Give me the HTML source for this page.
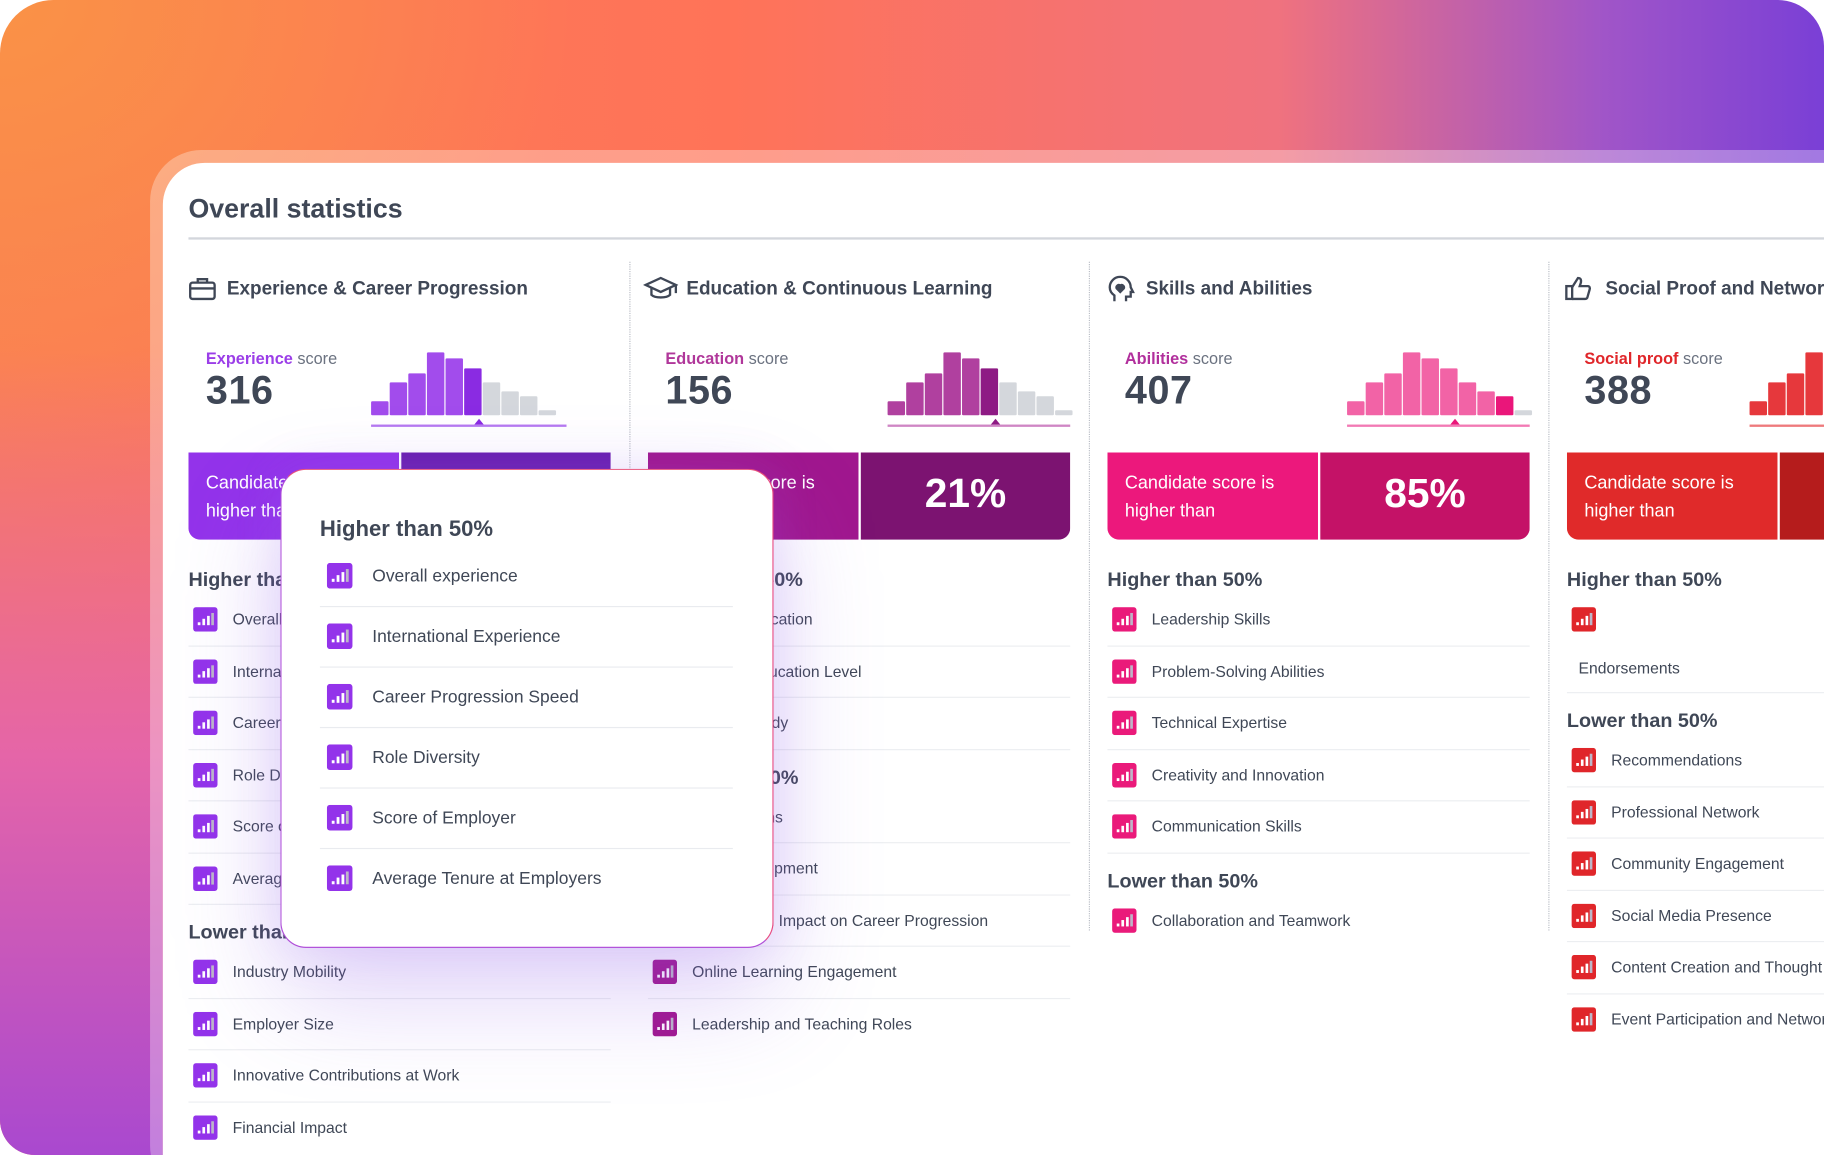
<!DOCTYPE html>
<html><head><meta charset="utf-8">
<style>
*{box-sizing:border-box;margin:0;padding:0}
html,body{width:1824px;height:1155px;overflow:hidden;background:#fff;font-family:"Liberation Sans","DejaVu Sans",sans-serif;color:#3f4756}
#stage{position:absolute;left:0;top:0;width:1568px;height:993px;transform:scale(1.16327,1.16314);transform-origin:0 0;overflow:hidden}
#bg{position:absolute;left:0;top:0;width:1568px;height:993px;border-radius:46px 40px 0 30px;
background:radial-gradient(ellipse 700px 600px at 0 0,#fa9246 0%,rgba(250,146,70,0) 70%),
linear-gradient(90deg,#fb7d55 0%,#ff7358 40%,#f0727e 70%,#a055c8 88%,#7a3fd6 100%);overflow:hidden}
#bg:after{content:"";position:absolute;left:0;top:300px;width:140px;height:700px;background:linear-gradient(180deg,rgba(240,110,150,0) 0%,#e565a8 50%,#a848d0 100%)}
#rim{position:absolute;left:129px;top:129px;width:1500px;height:900px;border-radius:44px;background:rgba(255,255,255,.3)}
#card{position:absolute;left:140px;top:140px;width:1490px;height:900px;border-radius:36px;background:#fff;overflow:hidden}
#cols{position:absolute;left:0;top:0;width:1568px;height:993px;overflow:hidden}
.abs{position:absolute}
.title{left:22px;top:26px;font-size:23px;font-weight:bold;color:#3f4756}
.hr{left:22px;top:64px;width:1500px;height:2px;background:#d3d6dc}
.sep{width:0;border-left:1.5px dotted #b9bdc5;height:575px;top:86px}
.colh{font-size:16.3px;font-weight:bold;color:#3f4756;white-space:nowrap}
.lbl{font-size:14px;color:#6b7280;white-space:nowrap}
.lbl b{font-weight:bold}
.num{font-size:34px;font-weight:bold;color:#3f4756;letter-spacing:.5px}
.ban{height:75px;width:363px;border-radius:0 0 10px 10px;overflow:hidden}
.ban .l{position:absolute;left:0;top:0;width:181px;height:75px;color:#fff;font-size:15.5px;line-height:23.5px;padding:15px 0 0 15px}
.ban .r{position:absolute;left:183px;top:0;width:180px;height:75px;color:#fff;font-size:35px;font-weight:bold;text-align:center;line-height:72px}
.sh{font-size:17px;font-weight:bold;color:#3f4756;white-space:nowrap}
.row{height:44.5px;width:363px;border-bottom:1.5px solid #eceef1}
.row span{position:absolute;left:38px;top:14px;font-size:13.5px;color:#3f4756;white-space:nowrap}
.row svg{position:absolute;left:4px;top:11px}
#tip{position:absolute;left:241px;top:403px;width:424px;height:412px;border-radius:22px;background:#fff;border:1.5px solid #b04fd8;border-top-color:#e8507a;border-right-color:#e84a80;box-shadow:0 40px 90px rgba(140,90,230,.28),0 0 40px rgba(160,110,240,.15)}
.trow{position:absolute;left:33px;width:355px;height:52px;border-bottom:1.5px solid #e9ebef}
.trow span{position:absolute;left:45px;top:17px;font-size:15px;color:#3f4756;white-space:nowrap}
.trow svg{position:absolute;left:6px;top:14px}
</style></head>
<body>
<div id="stage">
<div id="bg"></div>
<div id="rim"></div>
<div id="card">
 <div class="abs title">Overall statistics</div>
 <div class="abs hr"></div>
</div>
<div id="cols"></div>
<div id="tip">
 <div class="abs" style="left:33px;top:41px;font-size:19px;font-weight:bold;color:#3f4756">Higher than 50%</div>
</div>
</div>
<script>
// ---- data ----
const columnTitles=["Experience & Career Progression","Education & Continuous Learning","Skills and Abilities","Social Proof and Networking"];
const scoreLabels=["Experience","Education","Abilities","Social proof"];
const scores=[316,156,407,388];
const percents=["","21%","85%",""];
const histogram=[14,33,42,63,57,47,33,24,19,5];
const candidateBin=[5,5,8,9];
const markerBin=[5.8,5.8,5.8,5.8];
const higherItems=[
 ["Overall experience","International Experience","Career Progression Speed","Role Diversity","Score of Employer","Average Tenure at Employers"],
 ["Higher Education","Highest Education Level","Field of Study"],
 ["Leadership Skills","Problem-Solving Abilities","Technical Expertise","Creativity and Innovation","Communication Skills"],
 [""]];
const lowerItems=[
 ["Industry Mobility","Employer Size","Innovative Contributions at Work","Financial Impact"],
 ["Certifications","Skill Development","Educational Impact on Career Progression","Online Learning Engagement","Leadership and Teaching Roles"],
 ["Collaboration and Teamwork"],
 ["Recommendations","Professional Network","Community Engagement","Social Media Presence","Content Creation and Thought Leadership","Event Participation and Networking"]];
const tooltipItems=["Overall experience","International Experience","Career Progression Speed","Role Diversity","Score of Employer","Average Tenure at Employers"];

const themes=[
 {lab:"#9b3ee8",bar:"#a24cec",dark:"#8a2be2",axis:"#b57af0",bl:"#9333ea",br:"#6a1fb0",icon:"#9333ea"},
 {lab:"#b0379a",bar:"#b0409f",dark:"#8e1a84",axis:"#cf86c4",bl:"#a0178e",br:"#7c1371",icon:"#a0178e"},
 {lab:"#b12f9c",bar:"#f263a6",dark:"#ea167a",axis:"#f27ab4",bl:"#ec187c",br:"#c41267",icon:"#ea1a7a"},
 {lab:"#e0262a",bar:"#e6383c",dark:"#c81e22",axis:"#ee7a7c",bl:"#e02a2a",br:"#b51c1c",icon:"#e0262a"}];
const colX=[162,557,952,1347];
const histOffset=[157,206,206,157];
const axisLen=[168,157,157,168];

function iconSVG(c){return `<svg width="21" height="21" viewBox="0 0 21 21"><rect width="21" height="21" rx="2.5" fill="${c}"/><rect x="4" y="13" width="2.3" height="2.5" fill="#fff"/><rect x="8" y="10" width="2.3" height="5.5" fill="#fff"/><rect x="12" y="7.5" width="2.3" height="8" fill="#fff"/><rect x="15.6" y="5" width="2.3" height="10.5" fill="#bdb6c8"/></svg>`;}
const headIcons=[
 `<svg width="24" height="22" viewBox="0 0 24 22" fill="none" stroke="#3f4756" stroke-width="2"><rect x="1.5" y="6" width="21" height="14" rx="2"/><path d="M8 6V3h8v3M1.5 11h21"/></svg>`,
 `<svg width="30" height="22" viewBox="0 0 30 22" fill="none" stroke="#3f4756" stroke-width="2"><path d="M2 8l13-6 13 6-13 6z"/><path d="M7 10.5v6c3 3 13 3 16 0v-6M28 8v7"/></svg>`,
 `<svg width="24" height="24" viewBox="0 0 24 24" fill="none" stroke="#3f4756" stroke-width="2"><path d="M6 22v-5C3 15 2 12 2 10a9 9 0 0118 0l2 4h-2v4h-4v4"/><path d="M11 14l-3-3a2 2 0 013-2.5A2 2 0 0114 11z" fill="#3f4756"/></svg>`,
 `<svg width="24" height="22" viewBox="0 0 24 22" fill="none" stroke="#3f4756" stroke-width="2"><rect x="1.5" y="9" width="5" height="11"/><path d="M6.5 10l5-8c2 0 3 1 2.5 4l-1 3h7c1.5 0 2 1.5 1.5 3l-2 7c-.5 1-1 1-2 1H6.5"/></svg>`];

const root=document.getElementById('cols');
function add(parent,html,name,inter){const d=document.createElement('div');d.innerHTML=html;const e=d.firstElementChild;
 
 
 parent.appendChild(e);return e;}

const BAR_STEP=16, BAR_W=15, PLOT_H=54, BASE_Y=357;
const maxV=Math.max(...histogram);
function xBar(i,x0){return x0+i*BAR_STEP;}
function yH(v){return v/maxV*PLOT_H;}

for(let c=0;c<4;c++){
 const x=colX[c], t=themes[c];
 const ix = c===1?553:(c===3?1345:x);
 add(root,`<div class="abs" style="left:${ix}px;top:237px">${headIcons[c]}</div>`,'column-icon',false);
 add(root,`<div class="abs colh" style="left:${x+33}px;top:239px">${columnTitles[c]}</div>`,'column-title',false);
 if(c>0) add(root,`<div class="abs sep" style="left:${x-16}px;top:225px"></div>`,'column-separator',false);
 add(root,`<div class="abs lbl" style="left:${x+15}px;top:300px"><b style="color:${t.lab}">${scoreLabels[c]}</b> score</div>`,'score-label',false);
 add(root,`<div class="abs num" style="left:${x+15}px;top:317px">${scores[c]}</div>`,'score-value',false);
 const hx=x+histOffset[c];
 const svg=add(root,`<svg class="abs" style="left:0;top:0;overflow:visible" width="1568" height="993"></svg>`,'score-histogram',false);
 const ns='http://www.w3.org/2000/svg';
 histogram.forEach((v,i)=>{const r=document.createElementNS(ns,'rect');
  const h=yH(v);r.setAttribute('x',xBar(i,hx));r.setAttribute('y',BASE_Y-h);r.setAttribute('width',BAR_W);r.setAttribute('height',h);r.setAttribute('rx',1);
  r.setAttribute('fill',i<candidateBin[c]?t.bar:(i===candidateBin[c]?t.dark:'#d4d7dc'));
  
  
  svg.appendChild(r);});
 const ax=document.createElementNS(ns,'rect');ax.setAttribute('x',hx);ax.setAttribute('y',BASE_Y+8);ax.setAttribute('width',axisLen[c]);ax.setAttribute('height',2);ax.setAttribute('fill',t.axis);
 
 
 svg.appendChild(ax);
 const mx=xBar(markerBin[c],hx);
 const tri=document.createElementNS(ns,'path');tri.setAttribute('d',`M${mx-4} ${BASE_Y+8}L${mx} ${BASE_Y+3}L${mx+4} ${BASE_Y+8}Z`);tri.setAttribute('fill',t.dark);
 
 
 svg.appendChild(tri);
 add(root,`<div class="abs ban" style="left:${x}px;top:389px"><div class="l" style="background:${t.bl}">Candidate score is<br>higher than</div><div class="r" style="background:${t.br}">${percents[c]}</div></div>`,'percentile-banner',false);
 let y=489;
 add(root,`<div class="abs sh" style="left:${x}px;top:${y}px">Higher than 50%</div>`,'higher-heading',false);
 y=511;
 higherItems[c].forEach((txt,i)=>{
  let inner = c===3? `${iconSVG(t.icon)}<span style="left:10px;top:56px">Endorsements</span>` : `${iconSVG(t.icon)}<span>${txt}</span>`;
  const h = c===3?85:44.5;
  add(root,`<div class="abs row" style="left:${x}px;top:${y}px;height:${h}px">${inner}</div>`,'metric-row',true);
  y+=h;
 });
 y+=14;
 add(root,`<div class="abs sh" style="left:${x}px;top:${y}px">Lower than 50%</div>`,'lower-heading',false);
 y+=22;
 lowerItems[c].forEach((txt,i)=>{
  const last=i===lowerItems[c].length-1;
  add(root,`<div class="abs row" style="left:${x}px;top:${y}px;${last?'border-bottom:none':''}">${iconSVG(t.icon)}<span>${txt}</span></div>`,'metric-row',true);
  y+=44.5;
 });
}
const tip=document.getElementById('tip');
tooltipItems.forEach((txt,i)=>{
 add(tip,`<div class="trow" style="top:${66+i*52}px;${i===5?'border-bottom:none':''}">${iconSVG('#9333ea').replace('width="21" height="21"','width="22" height="22"')}<span>${txt}</span></div>`,'tooltip-row',true);
});
</script>
</body></html>
